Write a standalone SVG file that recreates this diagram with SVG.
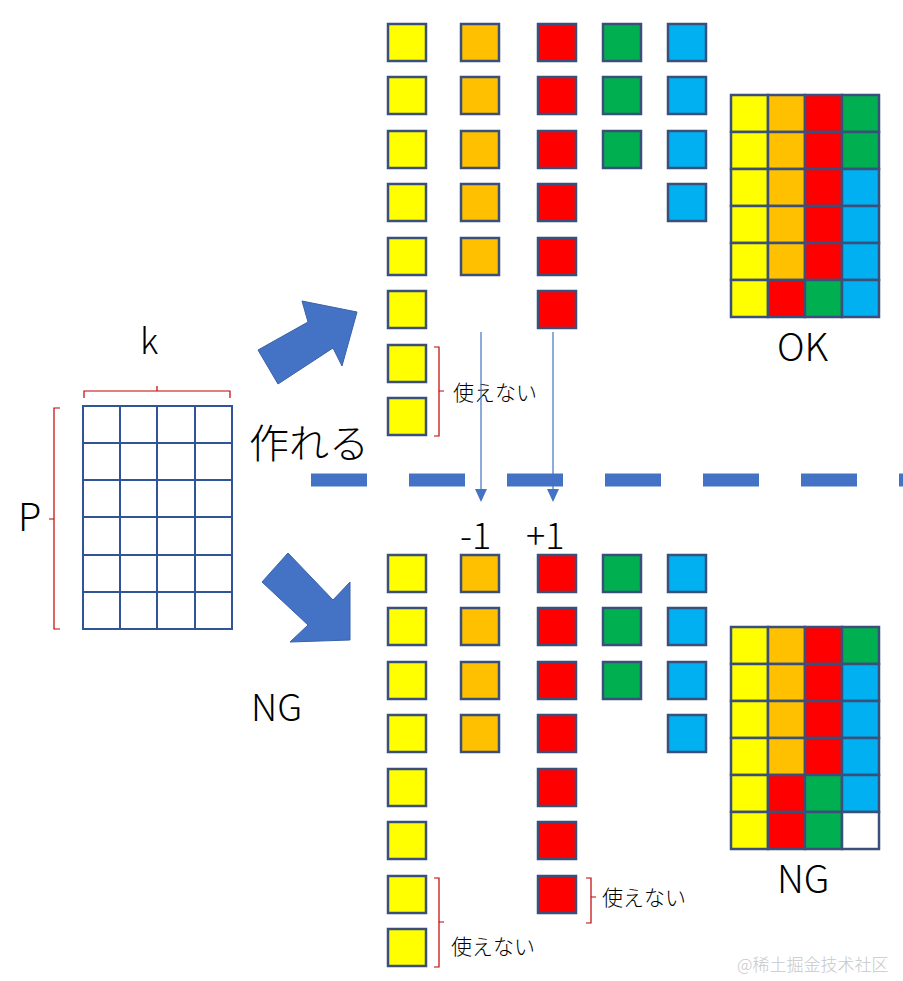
<svg xmlns="http://www.w3.org/2000/svg" width="903" height="981" viewBox="0 0 903 981">
<style>
.s{stroke:#3A4F7A;stroke-width:2.5}
.Y{fill:#FFFF00}.O{fill:#FFC000}.R{fill:#FF0000}.G{fill:#00B050}.B{fill:#00B0F0}.W{fill:#fff}
.g{fill:#fff;stroke:#2F5597;stroke-width:2}
.br{fill:none;stroke:#C00000;stroke-width:1.2}
text{font-family:"Noto Sans CJK JP","Noto Sans",sans-serif;font-weight:300;fill:#000}
.ar{fill:#4472C4;stroke:#3A62A8;stroke-width:1}
</style>
<rect width="903" height="981" fill="#fff"/>
<g id="grid">
<rect class="g" x="83" y="406" width="149" height="223"/>
<path class="g" d="M120 406V629M157 406V629M195 406V629M83 443H232M83 480H232M83 517H232M83 555H232M83 592H232"/>
<path class="br" d="M84 398V391H157V386M157 391H230V398"/>
<path class="br" d="M60 408H54V519H49M54 519V629H60"/>
<text x="140" y="354" font-size="35">k</text>
<text x="18" y="531" font-size="38">P</text>
</g>
<g id="arrows">
<polygon class="ar" points="258,350 308,322 302,301 357,312 342,366 333,348 278,384"/>
<polygon class="ar" points="288,553 333,600 350,582 350,640 290,642 308,625 262,582"/>
<text x="249" y="458" font-size="40">作れる</text>
<text x="251" y="721" font-size="37">NG</text>
</g>
<g id="divider">
<line x1="311" y1="480" x2="903" y2="480" stroke="#4472C4" stroke-width="13" stroke-dasharray="56 42"/>
</g>
<g id="top">
<g class="s">
<rect class="Y" x="388" y="24" width="38" height="37"/><rect class="Y" x="388" y="77" width="38" height="37"/><rect class="Y" x="388" y="131" width="38" height="37"/><rect class="Y" x="388" y="184" width="38" height="37"/><rect class="Y" x="388" y="238" width="38" height="37"/><rect class="Y" x="388" y="291" width="38" height="37"/><rect class="Y" x="388" y="345" width="38" height="37"/><rect class="Y" x="388" y="398" width="38" height="37"/>
<rect class="O" x="461" y="24" width="38" height="37"/><rect class="O" x="461" y="77" width="38" height="37"/><rect class="O" x="461" y="131" width="38" height="37"/><rect class="O" x="461" y="184" width="38" height="37"/><rect class="O" x="461" y="238" width="38" height="37"/>
<rect class="R" x="538" y="24" width="38" height="37"/><rect class="R" x="538" y="77" width="38" height="37"/><rect class="R" x="538" y="131" width="38" height="37"/><rect class="R" x="538" y="184" width="38" height="37"/><rect class="R" x="538" y="238" width="38" height="37"/><rect class="R" x="538" y="291" width="38" height="37"/>
<rect class="G" x="603" y="24" width="38" height="37"/><rect class="G" x="603" y="77" width="38" height="37"/><rect class="G" x="603" y="131" width="38" height="37"/>
<rect class="B" x="668" y="24" width="38" height="37"/><rect class="B" x="668" y="77" width="38" height="37"/><rect class="B" x="668" y="131" width="38" height="37"/><rect class="B" x="668" y="184" width="38" height="37"/>
</g>
<path class="br" d="M434 347H439V391H444M439 391V436H434"/>
<text x="453" y="400" font-size="21">使えない</text>
</g>
<g id="ok">
<g class="s">
<rect class="Y" x="731" y="95" width="37" height="37"/><rect class="O" x="768" y="95" width="37" height="37"/><rect class="R" x="805" y="95" width="37" height="37"/><rect class="G" x="842" y="95" width="37" height="37"/>
<rect class="Y" x="731" y="132" width="37" height="37"/><rect class="O" x="768" y="132" width="37" height="37"/><rect class="R" x="805" y="132" width="37" height="37"/><rect class="G" x="842" y="132" width="37" height="37"/>
<rect class="Y" x="731" y="169" width="37" height="37"/><rect class="O" x="768" y="169" width="37" height="37"/><rect class="R" x="805" y="169" width="37" height="37"/><rect class="B" x="842" y="169" width="37" height="37"/>
<rect class="Y" x="731" y="206" width="37" height="37"/><rect class="O" x="768" y="206" width="37" height="37"/><rect class="R" x="805" y="206" width="37" height="37"/><rect class="B" x="842" y="206" width="37" height="37"/>
<rect class="Y" x="731" y="243" width="37" height="37"/><rect class="O" x="768" y="243" width="37" height="37"/><rect class="R" x="805" y="243" width="37" height="37"/><rect class="B" x="842" y="243" width="37" height="37"/>
<rect class="Y" x="731" y="280" width="37" height="37"/><rect class="R" x="768" y="280" width="37" height="37"/><rect class="G" x="805" y="280" width="37" height="37"/><rect class="B" x="842" y="280" width="37" height="37"/>
</g>
<text x="777" y="361" font-size="38">OK</text>
</g>
<g id="connectors">
<line x1="481" y1="332" x2="481" y2="490" stroke="#4472C4" stroke-width="1.2"/>
<line x1="553" y1="332" x2="553" y2="490" stroke="#4472C4" stroke-width="1.2"/>
<polygon points="475,489 487,489 481,502" fill="#4472C4"/>
<polygon points="547,489 559,489 553,502" fill="#4472C4"/>
</g>
<text x="460" y="549" font-size="36">-1</text>
<text x="526" y="549" font-size="36">+1</text>
<g id="bottom">
<g class="s">
<rect class="Y" x="388" y="555" width="38" height="37"/><rect class="Y" x="388" y="608" width="38" height="37"/><rect class="Y" x="388" y="662" width="38" height="37"/><rect class="Y" x="388" y="715" width="38" height="37"/><rect class="Y" x="388" y="769" width="38" height="37"/><rect class="Y" x="388" y="822" width="38" height="37"/><rect class="Y" x="388" y="876" width="38" height="37"/><rect class="Y" x="388" y="929" width="38" height="37"/>
<rect class="O" x="461" y="555" width="38" height="37"/><rect class="O" x="461" y="608" width="38" height="37"/><rect class="O" x="461" y="662" width="38" height="37"/><rect class="O" x="461" y="715" width="38" height="37"/>
<rect class="R" x="538" y="555" width="38" height="37"/><rect class="R" x="538" y="608" width="38" height="37"/><rect class="R" x="538" y="662" width="38" height="37"/><rect class="R" x="538" y="715" width="38" height="37"/><rect class="R" x="538" y="769" width="38" height="37"/><rect class="R" x="538" y="822" width="38" height="37"/><rect class="R" x="538" y="876" width="38" height="37"/>
<rect class="G" x="603" y="555" width="38" height="37"/><rect class="G" x="603" y="608" width="38" height="37"/><rect class="G" x="603" y="662" width="38" height="37"/>
<rect class="B" x="668" y="555" width="38" height="37"/><rect class="B" x="668" y="608" width="38" height="37"/><rect class="B" x="668" y="662" width="38" height="37"/><rect class="B" x="668" y="715" width="38" height="37"/>
</g>
<path class="br" d="M434 878H439V922H444M439 922V967H434"/>
<path class="br" d="M586 878H591V897H596M591 897V923H586"/>
<text x="451" y="954" font-size="21">使えない</text>
<text x="602" y="905" font-size="21">使えない</text>
</g>
<g id="ng">
<g class="s">
<rect class="Y" x="731" y="627" width="37" height="37"/><rect class="O" x="768" y="627" width="37" height="37"/><rect class="R" x="805" y="627" width="37" height="37"/><rect class="G" x="842" y="627" width="37" height="37"/>
<rect class="Y" x="731" y="664" width="37" height="37"/><rect class="O" x="768" y="664" width="37" height="37"/><rect class="R" x="805" y="664" width="37" height="37"/><rect class="B" x="842" y="664" width="37" height="37"/>
<rect class="Y" x="731" y="701" width="37" height="37"/><rect class="O" x="768" y="701" width="37" height="37"/><rect class="R" x="805" y="701" width="37" height="37"/><rect class="B" x="842" y="701" width="37" height="37"/>
<rect class="Y" x="731" y="738" width="37" height="37"/><rect class="O" x="768" y="738" width="37" height="37"/><rect class="R" x="805" y="738" width="37" height="37"/><rect class="B" x="842" y="738" width="37" height="37"/>
<rect class="Y" x="731" y="775" width="37" height="37"/><rect class="R" x="768" y="775" width="37" height="37"/><rect class="G" x="805" y="775" width="37" height="37"/><rect class="B" x="842" y="775" width="37" height="37"/>
<rect class="Y" x="731" y="812" width="37" height="37"/><rect class="R" x="768" y="812" width="37" height="37"/><rect class="G" x="805" y="812" width="37" height="37"/><rect class="W" x="842" y="812" width="37" height="37"/>
</g>
<text x="777" y="893" font-size="38">NG</text>
</g>
<text x="737" y="971" font-size="17" style="fill:#C8C8C8">@稀土掘金技术社区</text>
</svg>
